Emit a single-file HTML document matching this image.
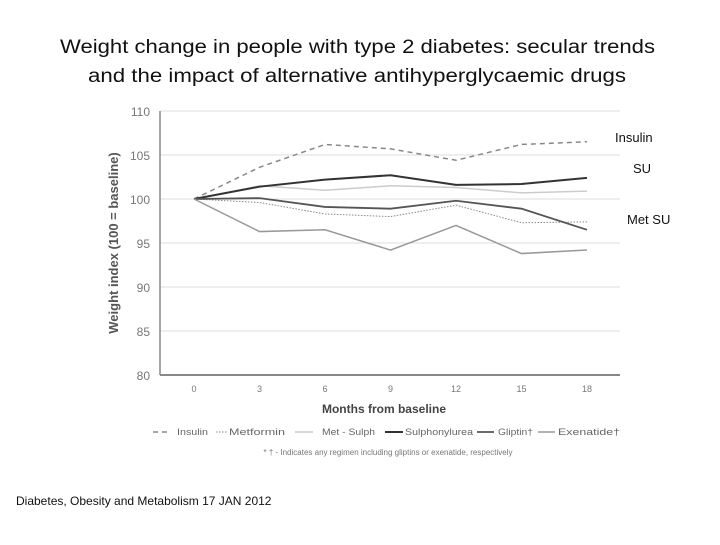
<!DOCTYPE html>
<html><head><meta charset="utf-8"><style>
body{margin:0;background:#fff;width:720px;height:540px;overflow:hidden;font-family:"Liberation Sans",sans-serif}
</style></head><body>
<svg width="720" height="540" xmlns="http://www.w3.org/2000/svg">
<text x="60" y="53" textLength="595" lengthAdjust="spacingAndGlyphs" font-size="19" fill="#111">Weight change in people with type 2 diabetes: secular trends</text>
<text x="88" y="82" textLength="538" lengthAdjust="spacingAndGlyphs" font-size="19" fill="#111">and the impact of alternative antihyperglycaemic drugs</text>
<g id="grid"></g><g id="axes"></g><g id="series"></g>
<text transform="translate(118,243) rotate(-90)" text-anchor="middle" font-size="13" font-weight="bold" fill="#555">Weight index (100 = baseline)</text>
<text x="384" y="413" text-anchor="middle" font-size="12" font-weight="bold" fill="#444">Months from baseline</text>
<g id="legend" font-size="9" fill="#666"></g>
<text x="388" y="455" text-anchor="middle" font-size="8" fill="#777">* † - Indicates any regimen including gliptins or exenatide, respectively</text>
<text x="615" y="142" font-size="13" fill="#111">Insulin</text>
<text x="633" y="173" font-size="13" fill="#111">SU</text>
<text x="627" y="224" font-size="13" fill="#111">Met SU</text>
<text x="16" y="505" font-size="12" fill="#111">Diabetes, Obesity and Metabolism 17 JAN 2012</text>
</svg>
<script>
const months=[0,3,6,9,12,15,18];
const yTicks=[80,85,90,95,100,105,110];
const insulin=[100,103.6,106.2,105.7,104.4,106.2,106.5];
const metformin=[100,99.6,98.3,98,99.3,97.3,97.4];
const metSulph=[100,101.5,101,101.5,101.3,100.7,100.9];
const sulphonylurea=[100,101.4,102.2,102.7,101.6,101.7,102.4];
const gliptin=[100,100.1,99.1,98.9,99.8,98.9,96.5];
const exenatide=[100,96.3,96.5,94.2,97,93.8,94.2];
const NS="http://www.w3.org/2000/svg";
const X=m=>194+m*(587-194)/18;
const Y=v=>375-(v-80)*(264/30);
function mk(p,t,a){const e=document.createElementNS(NS,t);for(const k in a)e.setAttribute(k,a[k]);document.getElementById(p).appendChild(e);return e;}
yTicks.forEach(v=>{
 const l=mk('grid','line',{x1:160,x2:620,y1:Y(v),y2:Y(v),stroke:v===80?'#888':'#ddd','stroke-width':v===80?2:1});
 
 
 const t=mk('axes','text',{x:150,y:Y(v)+5,'text-anchor':'end','font-size':12,fill:'#777'});t.textContent=v;
 
 
});
const ax=mk('axes','line',{x1:160,x2:160,y1:Y(110),y2:Y(80),stroke:'#888','stroke-width':1.5});


months.forEach(m=>{const t=mk('axes','text',{x:X(m),y:392,'text-anchor':'middle','font-size':9,fill:'#777'});t.textContent=m;
 
 });
const styles=[
 ['insulin',insulin,'#888',1.5,'5,4','Insulin'],
 ['metformin',metformin,'#888',1,'1.5,1.5','Metformin'],
 ['met-sulph',metSulph,'#ccc',1.5,'','Met - Sulph'],
 ['sulphonylurea',sulphonylurea,'#333',2,'','Sulphonylurea'],
 ['gliptin',gliptin,'#555',1.8,'','Gliptin†'],
 ['exenatide',exenatide,'#999',1.5,'','Exenatide†']];
styles.forEach(s=>{
 const p=mk('series','polyline',{points:s[1].map((v,i)=>X(months[i])+','+Y(v)).join(' '),fill:'none',stroke:s[2],'stroke-width':s[3],'stroke-dasharray':s[4]});
 
 
});
const lx=[153,216,295,385,477,538],lw=[14,11,18,18,17,17],tx=[177,229,322,405,498,558],tw=[31,56,53,68,35,62];
styles.forEach((s,i)=>{
 const l=mk('legend','line',{x1:lx[i],x2:lx[i]+lw[i],y1:432,y2:432,stroke:s[2],'stroke-width':s[3],'stroke-dasharray':s[4]});
 
 
 const t=mk('legend','text',{x:tx[i],y:435,textLength:tw[i],lengthAdjust:'spacingAndGlyphs'});t.textContent=s[5];
 
 
});
</script>
</body></html>
